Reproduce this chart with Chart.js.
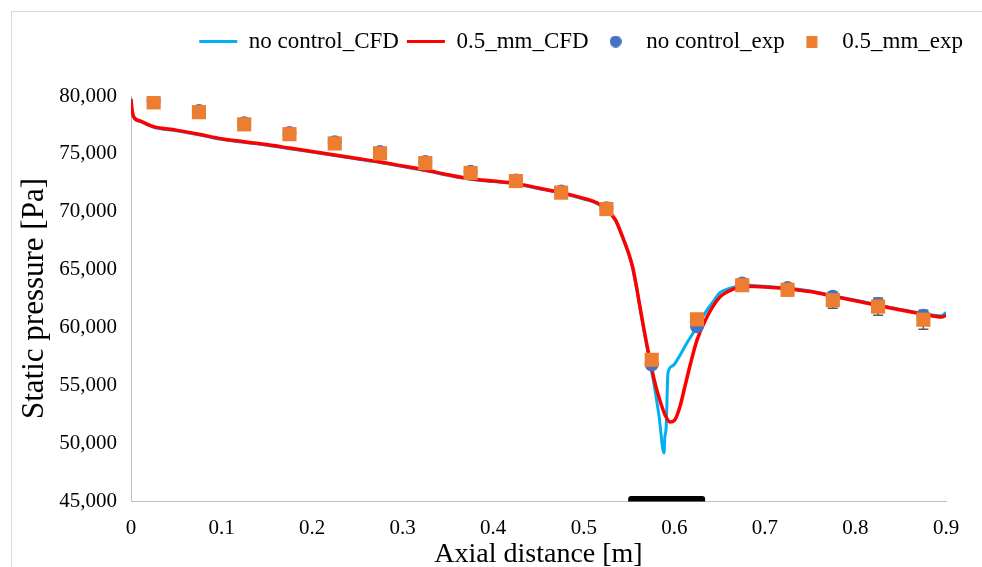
<!DOCTYPE html>
<html>
<head>
<meta charset="utf-8">
<script src="https://cdn.jsdelivr.net/npm/chart.js@4/dist/chart.umd.min.js"></script>
<style>
  html, body { margin: 0; padding: 0; background: #fff; }
  #wrap { width: 982px; height: 567px; position: relative; }
</style>
</head>
<body>
<div id="wrap"><canvas id="pressure-chart"></canvas></div>
<script>
    // CFD curves (axial distance [m], static pressure [Pa])
    const mmCfdX = [0, 0.001, 0.003, 0.01, 0.025, 0.05, 0.075, 0.1, 0.125, 0.15, 0.175, 0.2, 0.225, 0.25, 0.275, 0.3,
        0.325, 0.35, 0.375, 0.4, 0.425, 0.45, 0.475, 0.5, 0.515, 0.525, 0.535, 0.543, 0.55, 0.554, 0.558, 0.562,
        0.567, 0.573, 0.578, 0.584, 0.59, 0.5952, 0.6, 0.606, 0.612, 0.617, 0.625, 0.636, 0.65, 0.665, 0.68, 0.7,
        0.725, 0.75, 0.775, 0.8, 0.825, 0.85, 0.875, 0.895, 0.9];
    const mmCfdY = [79700, 78900, 78200, 77850, 77350, 77050, 76700, 76300, 76050, 75800, 75500, 75200, 74900, 74600, 74300, 73950,
        73600, 73200, 72850, 72650, 72450, 72050, 71650, 71150, 70750, 70200, 69300, 67800, 66300, 65200, 63600, 61800,
        59600, 57200, 55400, 53700, 52400, 51830, 51950, 53100, 55000, 56600, 58900, 60900, 62600, 63300, 63550, 63500,
        63350, 63100, 62700, 62300, 61900, 61500, 61150, 60900, 61050];

    const noCtrlCfdX = [0, 0.001, 0.003, 0.01, 0.025, 0.05, 0.075, 0.1, 0.125, 0.15, 0.175, 0.2, 0.225, 0.25, 0.275, 0.3,
        0.325, 0.35, 0.375, 0.4, 0.425, 0.45, 0.475, 0.5, 0.515, 0.525, 0.535, 0.543, 0.55, 0.554, 0.558, 0.562,
        0.567, 0.573, 0.578, 0.583, 0.5886, 0.5895, 0.591, 0.5925, 0.593, 0.5985, 0.604, 0.6095, 0.615, 0.6206, 0.628,
        0.636, 0.643, 0.65, 0.66, 0.669, 0.68, 0.7, 0.725, 0.75, 0.775, 0.8, 0.825, 0.85, 0.875, 0.895, 0.9];
    const noCtrlCfdY = [79800, 78800, 78150, 77800, 77300, 77000, 76650, 76250, 76000, 75750, 75450, 75150, 74850, 74550, 74250, 73900,
        73550, 73150, 72800, 72600, 72400, 72000, 71600, 71100, 70700, 70150, 69250, 67750, 66250, 65150, 63550, 61750,
        59500, 57000, 54900, 52400, 49150, 50500, 51400, 55400, 56100, 56700, 57300, 58050, 58800, 59500, 60500,
        61500, 62250, 62980, 63350, 63550, 63650, 63550, 63400, 63150, 62750, 62350, 61950, 61550, 61200, 61000, 61300];

    // Experimental points
    const expX = [0.025, 0.075, 0.125, 0.175, 0.225, 0.275, 0.325, 0.375, 0.425, 0.475, 0.525, 0.575, 0.625, 0.675,
        0.725, 0.775, 0.825, 0.875];
    const noCtrlExp = [79550, 78700, 77650, 76800, 76000, 75150, 74300, 73450, 72700, 71750, 70300, 56800, 60100, 63800,
        63400, 62650, 62000, 61000];
    const mmExp = [79450, 78600, 77550, 76700, 75900, 75050, 74200, 73350, 72650, 71650, 70230, 57200, 60700, 63650,
        63250, 62350, 61800, 60670];
    const mmExpErr = [200, 200, 200, 200, 200, 200, 200, 200, 200, 200, 200, 300, 400, 300, 500, 700, 750, 820];

    // control region marked on the axis
    const controlStart = 0.549;
    const controlEnd = 0.634;

    const xTicksMin = 0, xTicksMax = 0.9, xStep = 0.1;
    const yTicksMin = 45000, yTicksMax = 80000, yStep = 5000;

    const toPoints = (xs, ys) => xs.map((x, i) => ({ x: x, y: ys[i] }));

    Chart.defaults.font.family = "'Liberation Serif', 'Times New Roman', serif";
    Chart.defaults.color = '#000';

    // legend swatches for the experimental markers
    function makeIcon(color, round) {
        const c = document.createElement('canvas');
        c.width = 12; c.height = 12;
        const g = c.getContext('2d');
        g.fillStyle = color;
        if (round) {
            g.beginPath(); g.arc(6, 6, 6, 0, Math.PI * 2); g.fill();
        } else {
            g.fillRect(0.5, 0, 11, 12);
        }
        return c;
    }
    const circleIcon = makeIcon('#4472C4', true);
    const squareIcon = makeIcon('#ED7D31', false);

    const fixLegend = {
        id: 'fixLegend',
        beforeLayout(chart) {
            const lg = chart.legend;
            if (lg && !lg._fixed) {
                const fit = lg.fit.bind(lg);
                lg.fit = function () { fit(); this.height = 74; };
                lg._fixed = true;
            }
        }
    };

    const frame = {
        id: 'frame',
        beforeDraw(chart) {
            const ctx = chart.ctx;
            ctx.save();
            ctx.fillStyle = '#fff';
            ctx.fillRect(0, 0, chart.width, chart.height);
            ctx.strokeStyle = '#d9d9d9';
            ctx.lineWidth = 1;
            ctx.strokeRect(11.5, 11.5, chart.width + 20, chart.height + 20);
            ctx.restore();
        }
    };

    const errorBars = {
        id: 'errorBars',
        beforeDatasetsDraw(chart) {
            const ctx = chart.ctx;
            const xs = chart.scales.x, ys = chart.scales.y;
            ctx.save();
            ctx.strokeStyle = '#595959';
            ctx.lineWidth = 1.5;
            expX.forEach((x, i) => {
                const px = xs.getPixelForValue(x);
                const lo = ys.getPixelForValue(mmExp[i] - mmExpErr[i]);
                const hi = ys.getPixelForValue(mmExp[i] + mmExpErr[i]);
                ctx.beginPath();
                ctx.moveTo(px, lo); ctx.lineTo(px, hi);
                ctx.moveTo(px - 5, lo); ctx.lineTo(px + 5, lo);
                ctx.moveTo(px - 5, hi); ctx.lineTo(px + 5, hi);
                ctx.stroke();
            });
            ctx.restore();
        }
    };

    const controlBar = {
        id: 'controlBar',
        afterDraw(chart) {
            const ctx = chart.ctx;
            const x0 = chart.scales.x.getPixelForValue(controlStart);
            const x1 = chart.scales.x.getPixelForValue(controlEnd);
            const yb = chart.scales.y.getPixelForValue(yTicksMin);
            ctx.save();
            ctx.fillStyle = '#000';
            ctx.beginPath();
            ctx.roundRect(x0, yb - 5, x1 - x0, 5.5, [3, 3, 0, 0]);
            ctx.fill();
            ctx.restore();
        }
    };

    const pressureChart = new Chart(document.getElementById('pressure-chart'), {
        type: 'scatter',
        data: {
            datasets: [
                { label: 'no control_CFD', data: toPoints(noCtrlCfdX, noCtrlCfdY), showLine: true,
                  borderColor: '#00B0F0', backgroundColor: '#00B0F0', borderWidth: 3, pointRadius: 0, order: 4,
                  cubicInterpolationMode: 'monotone' },
                { label: '0.5_mm_CFD', data: toPoints(mmCfdX, mmCfdY), showLine: true,
                  borderColor: '#FF0000', backgroundColor: '#FF0000', borderWidth: 3.5, pointRadius: 0, order: 3,
                  cubicInterpolationMode: 'monotone' },
                { label: 'no control_exp', data: toPoints(expX, noCtrlExp), pointStyle: 'circle',
                  pointRadius: 7, backgroundColor: '#4472C4', borderColor: '#4472C4', borderWidth: 0, order: 2 },
                { label: '0.5_mm_exp', data: toPoints(expX, mmExp), pointStyle: 'rect',
                  pointRadius: 10, backgroundColor: '#ED7D31', borderColor: '#ED7D31', borderWidth: 0, order: 1 }
            ]
        },
        options: {
            responsive: true,
            maintainAspectRatio: false,
            animation: false,
            layout: { padding: { top: 22, left: 0, right: 11, bottom: 0 } },
            plugins: {
                tooltip: { enabled: false },
                legend: {
                    position: 'top',
                    align: 'end',
                    labels: {
                        usePointStyle: true,
                        pointStyleWidth: 38,
                        boxHeight: 8.5,
                        padding: 8,
                        color: '#000',
                        font: { size: 23 },
                        generateLabels(chart) {
                            const styles = ['line', 'line', circleIcon, squareIcon];
                            return chart.data.datasets.map((ds, i) => ({
                                text: ds.label,
                                fillStyle: ds.backgroundColor,
                                strokeStyle: ds.borderColor,
                                lineWidth: i < 2 ? 3 : 0,
                                pointStyle: styles[i],
                                datasetIndex: i,
                                hidden: false
                            }));
                        }
                    }
                }
            },
            scales: {
                x: {
                    type: 'linear',
                    min: xTicksMin,
                    max: xTicksMax,
                    afterFit: s => { s.height = 66; },
                    grid: { display: false, drawTicks: false },
                    border: { display: true, color: '#bfbfbf', width: 1 },
                    ticks: {
                        stepSize: xStep,
                        padding: 15,
                        font: { size: 21 },
                        color: '#000',
                        callback: v => String(+v.toFixed(1))
                    },
                    title: { display: true, text: 'Axial distance [m]', font: { size: 28, lineHeight: 0.9 },
                             padding: 0, color: '#000' }
                },
                y: {
                    min: yTicksMin,
                    max: yTicksMax,
                    afterFit: s => { s.width = 131; },
                    grid: { display: false, drawTicks: false },
                    border: { display: true, color: '#bfbfbf', width: 1 },
                    ticks: {
                        stepSize: yStep,
                        padding: 14,
                        font: { size: 21 },
                        color: '#000',
                        callback: v => v.toLocaleString('en-US')
                    },
                    title: { display: true, text: 'Static pressure [Pa]', font: { size: 31, lineHeight: 1 },
                             padding: { top: 19, bottom: 0 }, color: '#000' }
                },
                yRight: {
                    position: 'right',
                    afterFit: s => { s.width = 25; },
                    grid: { display: false },
                    border: { display: false },
                    ticks: { display: false }
                }
            }
        },
        plugins: [fixLegend, frame, errorBars, controlBar]
    });
</script>
</body>
</html>
